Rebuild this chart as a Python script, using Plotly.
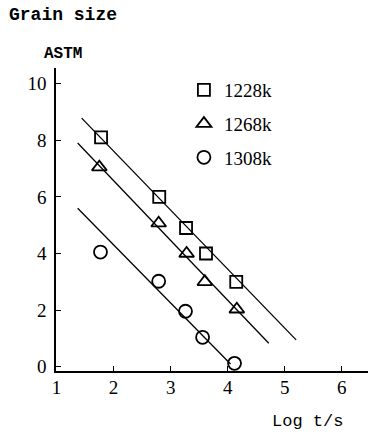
import plotly.graph_objects as go

# Measured data (log t/s, ASTM grain size)
x_1228 = [1.78, 2.80, 3.27, 3.62, 4.15]
y_1228 = [8.1, 6.0, 4.9, 4.0, 3.0]
x_1268 = [1.75, 2.79, 3.28, 3.60, 4.16]
y_1268 = [7.05, 5.07, 4.0, 3.0, 2.03]
x_1308 = [1.77, 2.79, 3.26, 3.56, 4.12]
y_1308 = [4.05, 3.02, 1.96, 1.04, 0.12]

# Fitted lines (end points)
fit_x_1228 = [1.44, 5.20]
fit_y_1228 = [8.78, 0.95]
fit_x_1268 = [1.37, 4.72]
fit_y_1268 = [7.90, 0.83]
fit_x_1308 = [1.37, 4.05]
fit_y_1308 = [5.60, 0.10]

labels = ["1228k", "1268k", "1308k"]
x_ticks = [1, 2, 3, 4, 5, 6]
y_ticks = [0, 2, 4, 6, 8, 10]

series = [
    (x_1228, y_1228, fit_x_1228, fit_y_1228, "square-open", 12, labels[0]),
    (x_1268, y_1268, fit_x_1268, fit_y_1268, "triangle-up-open", 13, labels[1]),
    (x_1308, y_1308, fit_x_1308, fit_y_1308, "circle-open", 13, labels[2]),
]

fig = go.Figure()
for i, (xs, ys, fx, fy, sym, sz, name) in enumerate(series):
    fig.add_trace(go.Scatter(x=fx, y=fy, mode="lines",
                             line=dict(color="black", width=1.3),
                             showlegend=False, hoverinfo="skip"))
    fig.add_trace(go.Scatter(x=xs, y=ys, mode="markers", name=name,
                             legendgroup="g%d" % i,
                             marker=dict(symbol=sym, size=sz, color="black",
                                         line=dict(color="black", width=1.8))))

fig.update_layout(
    width=368, height=434,
    margin=dict(l=56, r=0, t=68, b=63),
    paper_bgcolor="white", plot_bgcolor="white",
    font=dict(family="Liberation Serif", size=19, color="black"),
    showlegend=True,
    legend=dict(x=0.41, y=0.99, xanchor="left", yanchor="top",
                bgcolor="rgba(0,0,0,0)", tracegroupgap=6,
                font=dict(family="Liberation Serif", size=19)),
    xaxis=dict(range=[0.99, 6.46], tickvals=x_ticks, ticks="inside", ticklen=5,
               tickcolor="black", showline=True, linecolor="black", linewidth=1.5,
               showgrid=False, zeroline=False, ticklabelstandoff=-2,
               tickfont=dict(family="Liberation Serif", size=19)),
    yaxis=dict(range=[-0.15, 10.55], tickvals=y_ticks, ticks="inside", ticklen=5,
               tickcolor="black", showline=True, linecolor="black", linewidth=1.5,
               showgrid=False, zeroline=False, ticklabelstandoff=4,
               tickfont=dict(family="Liberation Serif", size=19)),
    annotations=[
        dict(text="<b>Grain size</b>", xref="paper", yref="paper", x=-0.157, y=1.175,
             xanchor="left", yanchor="middle", showarrow=False,
             font=dict(family="Liberation Mono", size=18)),
        dict(text="<b>ASTM</b>", xref="paper", yref="paper", x=-0.045, y=1.046,
             xanchor="left", yanchor="middle", showarrow=False,
             font=dict(family="Liberation Mono", size=16)),
        dict(text="Log t/s", xref="paper", yref="paper", x=0.686, y=-0.168,
             xanchor="left", yanchor="middle", showarrow=False,
             font=dict(family="Liberation Mono", size=17)),
    ],
)

fig.write_html("out.html")
